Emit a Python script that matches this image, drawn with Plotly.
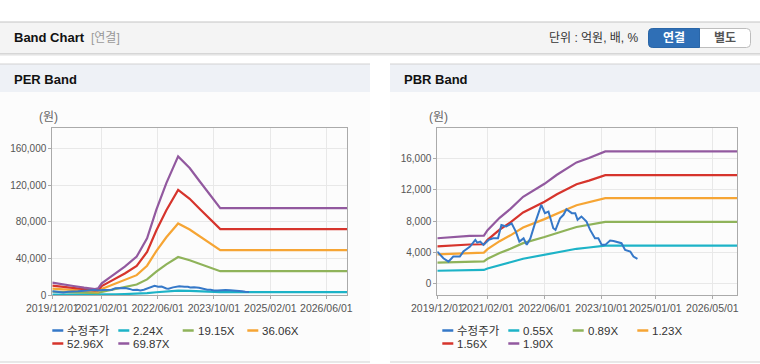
import plotly.graph_objects as go

W, H = 760, 364

# ---------------- data ----------------
series_names_per = ["수정주가", "2.24X", "19.15X", "36.06X", "52.96X", "69.87X"]
series_names_pbr = ["수정주가", "0.55X", "0.89X", "1.23X", "1.56X", "1.90X"]
series_colors = ["#3578c8", "#1db3c7", "#8fb35a", "#f6a534", "#d6342c", "#92599f"]

price_dates = ["2019-12-01", "2020-01-22", "2020-03-05", "2020-04-15", "2020-06-10", "2020-07-10",
               "2020-09-05", "2020-10-20", "2020-11-05", "2020-12-01", "2020-12-28", "2021-02-10",
               "2021-03-20", "2021-05-01", "2021-05-30", "2021-07-10", "2021-08-25", "2021-09-30",
               "2021-10-30", "2021-12-05", "2022-01-01", "2022-02-01", "2022-03-12", "2022-04-10",
               "2022-05-05", "2022-06-05", "2022-07-05", "2022-08-15", "2022-09-03", "2022-10-12",
               "2022-11-10", "2022-12-05", "2023-01-20", "2023-02-18", "2023-03-10", "2023-04-12",
               "2023-05-25", "2023-06-25", "2023-08-05", "2023-09-03", "2023-10-01", "2023-11-01",
               "2023-12-12", "2024-01-10", "2024-02-20", "2024-03-18", "2024-04-18", "2024-06-01",
               "2024-06-28", "2024-08-01"]
price_values = [4120, 3270, 2840, 3480, 3480, 4120,
                4750, 5600, 5260, 5390, 4970, 5600,
                5800, 5800, 7500, 7300, 7700, 6660,
                5390, 5800, 4970, 5800, 7700, 9000,
                10060, 9000, 9200, 7090, 6870, 8360,
                8790, 9500, 9000, 9000, 8150, 8570,
                7940, 6870, 5800, 5800, 4970, 4970,
                5520, 5470, 5300, 5180, 4330, 4120,
                3480, 3180]

per_band_dates = ["2019-12-01", "2020-03-01", "2020-06-01", "2020-09-01", "2020-12-05", "2021-01-01",
                  "2021-02-01", "2021-04-01", "2021-06-01", "2021-08-20", "2021-12-01", "2022-03-01",
                  "2022-05-20", "2022-08-15", "2022-11-25", "2023-03-05", "2023-06-01", "2023-09-01",
                  "2023-11-25", "2026-12-01"]
per_2_24x = [434, 387, 317, 258, 211, 234, 410, 587, 763, 997, 1350, 1994, 2991, 3931, 4870,
             4459, 3988, 3520, 3052, 3052]
per_19_15x = [3711, 3311, 2708, 2206, 1806, 2001, 3508, 5015, 6522, 8524, 11540, 17047, 25571,
              33603, 41634, 38124, 34095, 30094, 26092, 26092]
per_36_06x = [6988, 6235, 5099, 4154, 3400, 3768, 6606, 9444, 12282, 16050, 21730, 32101, 48151,
              63274, 78398, 71788, 64201, 56668, 49132, 49132]
per_52_96x = [10264, 9157, 7489, 6101, 4994, 5534, 9702, 13870, 18038, 23572, 31914, 47145, 70717,
              92929, 115140, 105433, 94290, 83227, 72158, 72158]
per_69_87x = [13541, 12080, 9880, 8049, 6589, 7301, 12800, 18299, 23798, 31099, 42104, 62198,
              93297, 122601, 151904, 139097, 124397, 109800, 95197, 95197]

pbr_band_dates = ["2019-12-01", "2020-05-01", "2020-09-01", "2021-01-01", "2021-02-01", "2021-05-15",
                  "2021-08-15", "2021-12-01", "2022-06-01", "2022-09-15", "2022-12-15", "2023-03-01",
                  "2023-06-15", "2023-09-15", "2023-11-01", "2026-12-01"]
pbr_0_55x = [1682, 1733, 1769, 1780, 1978, 2433, 2764, 3206, 3686, 4017, 4263, 4472, 4632, 4791,
             4877, 4877]
pbr_0_89x = [2722, 2804, 2862, 2881, 3201, 3936, 4472, 5188, 5964, 6501, 6898, 7237, 7495, 7753,
             7893, 7893]
pbr_1_23x = [3761, 3875, 3956, 3982, 4424, 5440, 6181, 7170, 8242, 8984, 9534, 10001, 10358, 10715,
             10908, 10908]
pbr_1_56x = [4770, 4914, 5017, 5050, 5611, 6900, 7839, 9093, 10454, 11394, 12092, 12684, 13137,
             13589, 13834, 13834]
pbr_1_90x = [5810, 5985, 6110, 6150, 6834, 8404, 9548, 11075, 12732, 13878, 14727, 15449, 16000,
             16551, 16849, 16849]

per_tick_dates = ["2019-12-01", "2021-02-01", "2022-06-01", "2023-10-01", "2025-02-01", "2026-06-01"]
per_tick_text = ["2019/12/01", "2021/02/01", "2022/06/01", "2023/10/01", "2025/02/01", "2026/06/01"]
pbr_tick_dates = ["2019-12-01", "2021-02-01", "2022-06-01", "2023-10-01", "2025-01-01", "2026-05-01"]
pbr_tick_text = ["2019/12/01", "2021/02/01", "2022/06/01", "2023/10/01", "2025/01/01", "2026/05/01"]
per_y_ticks = [0, 40000, 80000, 120000, 160000]
pbr_y_ticks = [0, 4000, 8000, 12000, 16000]

# ---------------- helpers ----------------
def px(x):
    return x / W

def py(y):
    return 1 - y / H

FONT = "Liberation Sans, Arial, Noto Sans CJK KR, sans-serif"
NARROW = "Liberation Sans Narrow, Arial Narrow, Liberation Sans, sans-serif"
KFONT = "Liberation Sans, Noto Sans CJK KR, sans-serif"

shapes = []
annotations = []

def rect(x0, y0, x1, y1, fill, line=None, lw=0, layer="below"):
    shapes.append(dict(type="rect", xref="paper", yref="paper",
                       x0=px(x0), x1=px(x1), y0=py(y1), y1=py(y0),
                       fillcolor=fill, line=dict(color=line or fill, width=lw), layer=layer))

def hline(x0, x1, y, color, w=1, layer="below"):
    shapes.append(dict(type="line", xref="paper", yref="paper",
                       x0=px(x0), x1=px(x1), y0=py(y), y1=py(y),
                       line=dict(color=color, width=w), layer=layer))

def text(x, y, s, size=12, color="#333", bold=False, xanchor="left", family=KFONT):
    if bold:
        s = "<b>" + s + "</b>"
    annotations.append(dict(xref="paper", yref="paper", x=px(x), y=py(y), text=s,
                            showarrow=False, xanchor=xanchor, yanchor="middle",
                            font=dict(size=size, color=color, family=family)))

def rounded(x0, y0, x1, y1, rl, rr, fill, line, lw):
    pts = []
    pts.append(f"M{px(x0 + rl)},{py(y0)}")
    pts.append(f"L{px(x1 - rr)},{py(y0)}")
    pts.append(f"Q{px(x1)},{py(y0)} {px(x1)},{py(y0 + rr)}")
    pts.append(f"L{px(x1)},{py(y1 - rr)}")
    pts.append(f"Q{px(x1)},{py(y1)} {px(x1 - rr)},{py(y1)}")
    pts.append(f"L{px(x0 + rl)},{py(y1)}")
    pts.append(f"Q{px(x0)},{py(y1)} {px(x0)},{py(y1 - rl)}")
    pts.append(f"L{px(x0)},{py(y0 + rl)}")
    pts.append(f"Q{px(x0)},{py(y0)} {px(x0 + rl)},{py(y0)}Z")
    shapes.append(dict(type="path", xref="paper", yref="paper", path=" ".join(pts),
                       fillcolor=fill, line=dict(color=line, width=lw), layer="above"))

# ---------------- page decoration ----------------
rect(0, 22, W, 53, "#f4f4f4")
hline(0, W, 22, "#c4c4c4")
hline(0, W, 53.5, "#d6d6d6")
hline(0, W, 54.5, "#e4e4e4")
hline(0, W, 55.5, "#efefef")
text(12, 38, "Band Chart", size=13, color="#111", bold=True)
text(89, 38.5, "[연결]", size=12, color="#999")
text(641, 38.5, "단위 : 억원, 배, %", size=12, color="#333", xanchor="right")
rounded(648.5, 28.5, 750.5, 47.5, 4, 4, "#ffffff", "#bdbdbd", 1)
rounded(648.5, 28.5, 699.5, 47.5, 4, 0, "#2f6fb6", "#2a66a8", 1)
text(674, 38.5, "연결", size=12, color="#ffffff", bold=True, xanchor="center")
text(725, 38.5, "별도", size=12, color="#555555", bold=True, xanchor="center")

for x0, x1, title in [(0, 370, "PER Band"), (390, W, "PBR Band")]:
    rect(x0, 64, x1, 92, "#eef1f6")
    rect(x0, 92, x1, 362, "#fcfcfc")
    hline(x0, x1, 64, "#d2d2d2")
    hline(x0, x1, 362, "#d2d2d2")
    text(x0 + 12, 79.5, title, size=13, color="#111", bold=True)
    text(x0 + 37, 117.5, "(원)", size=12, color="#666")

legend_cols = [52.3, 118.3, 182.7, 247.3]
legend_rows = [330.5, 343.5]
for off, names in [(0, series_names_per), (390, series_names_pbr)]:
    for i, (nm, col) in enumerate(zip(names, series_colors)):
        r, c = divmod(i, 4)
        sx = off + legend_cols[c]
        sy = legend_rows[r]
        hline(sx, sx + 11, sy, col, w=2.5, layer="above")
        text(sx + 13, sy + 0.5, nm, size=11.5, color="#333", family=KFONT)

# ---------------- traces ----------------
fig = go.Figure()

per_series = [per_2_24x, per_19_15x, per_36_06x, per_52_96x, per_69_87x]
pbr_series = [pbr_0_55x, pbr_0_89x, pbr_1_23x, pbr_1_56x, pbr_1_90x]

for vals, nm, col in zip(per_series, series_names_per[1:], series_colors[1:]):
    fig.add_trace(go.Scatter(x=per_band_dates, y=vals, name=nm, mode="lines",
                             line=dict(color=col, width=2.2),
                             xaxis="x", yaxis="y", showlegend=False))
fig.add_trace(go.Scatter(x=price_dates, y=price_values, name=series_names_per[0], mode="lines",
                         line=dict(color=series_colors[0], width=2),
                         xaxis="x", yaxis="y", showlegend=False))

for vals, nm, col in zip(pbr_series, series_names_pbr[1:], series_colors[1:]):
    fig.add_trace(go.Scatter(x=pbr_band_dates, y=vals, name=nm, mode="lines",
                             line=dict(color=col, width=2.2),
                             xaxis="x2", yaxis="y2", showlegend=False))
fig.add_trace(go.Scatter(x=price_dates, y=price_values, name=series_names_pbr[0], mode="lines",
                         line=dict(color=series_colors[0], width=2),
                         xaxis="x2", yaxis="y2", showlegend=False))

axis_common = dict(showline=True, linecolor="#aaaaaa", linewidth=1, mirror=True,
                   showgrid=True, gridcolor="#e8e8e8", gridwidth=1, zeroline=False,
                   ticks="outside", ticklen=3, tickcolor="#aaaaaa", automargin=False)
yfont = dict(size=10, color="#555", family=FONT)
xfont = dict(size=10.5, color="#555", family=NARROW)

ydom = [py(295), py(128)]
fig.update_layout(
    width=W, height=H, autosize=False,
    margin=dict(l=0, r=0, t=0, b=0, pad=0, autoexpand=False),
    paper_bgcolor="#ffffff",
    plot_bgcolor="#ffffff",
    showlegend=False,
    shapes=shapes,
    annotations=annotations,
    xaxis=dict(domain=[px(52.3), px(347)], type="date", range=["2019-12-01", "2026-11-27"],
               tickvals=per_tick_dates, ticktext=per_tick_text, tickangle=0, tickfont=xfont,
               anchor="y", **axis_common),
    yaxis=dict(domain=ydom, range=[0, 183000], tickvals=per_y_ticks, tickformat=",",
               tickfont=yfont, anchor="x", **axis_common),
    xaxis2=dict(domain=[px(437.3), px(737)], type="date", range=["2019-12-01", "2026-11-27"],
                tickvals=pbr_tick_dates, ticktext=pbr_tick_text, tickangle=0, tickfont=xfont,
                anchor="y2", **axis_common),
    yaxis2=dict(domain=ydom, range=[-1400, 19820], tickvals=pbr_y_ticks, tickformat=",",
                tickfont=yfont, anchor="x2", **axis_common),
)

fig.write_html("out.html", config={"displayModeBar": False},
               post_script="document.body.style.margin='0';document.body.style.overflow='hidden';")
